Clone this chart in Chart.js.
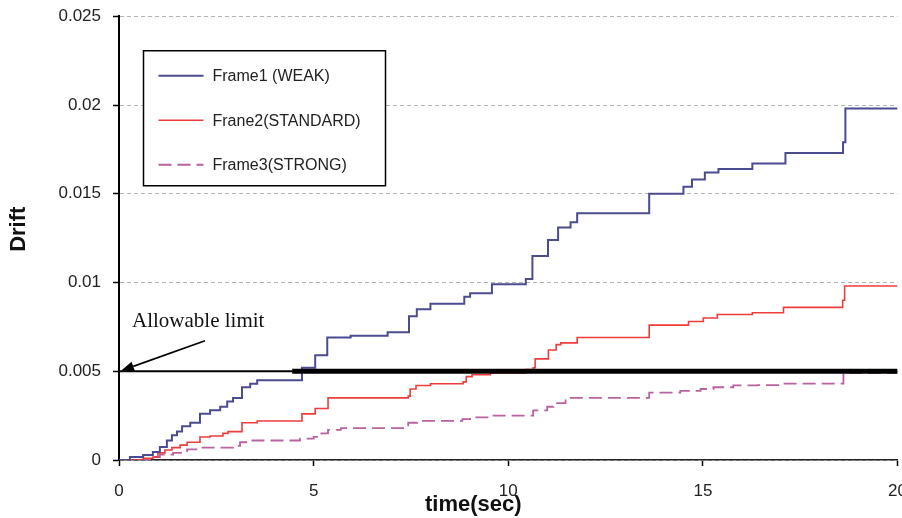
<!DOCTYPE html>
<html><head><meta charset="utf-8">
<script src="https://cdn.jsdelivr.net/npm/chart.js@4.4.0/dist/chart.umd.min.js"></script>
<style>html,body{margin:0;padding:0;background:#fff;overflow:hidden;width:902px;height:518px}canvas{display:block}</style>
</head><body>
<canvas id="c" width="922" height="518"></canvas>
<script>
// ---- data ----
const xTicks = [0, 5, 10, 15, 20];
const yTicks = [0, 0.005, 0.01, 0.015, 0.02, 0.025];
const seriesNames = ['Frame1 (WEAK)', 'Frane2(STANDARD)', 'Frame3(STRONG)'];

// each value holds from its time until the next time
const frame1Time  = [0, 0.28, 0.62, 0.87, 1.05, 1.23, 1.36, 1.49, 1.62, 1.83, 2.08, 2.34, 2.6, 2.78, 2.93, 3.16, 3.37, 3.55, 4.7, 5.04, 5.35, 5.95, 6.9, 7.45, 7.65, 8.0, 8.87, 9.02, 9.58, 10.45, 10.62, 11.02, 11.28, 11.6, 11.77, 13.62, 14.5, 14.72, 15.05, 15.4, 16.27, 17.12, 18.6, 18.66, 20];
const frame1Drift = [0, 0.00017, 0.00028, 0.00045, 0.00073, 0.0011, 0.0014, 0.0016, 0.0019, 0.0021, 0.0026, 0.0028, 0.003, 0.0033, 0.0035, 0.0041, 0.0043, 0.0045, 0.0052, 0.0059, 0.0069, 0.007, 0.0072, 0.0081, 0.0085, 0.0088, 0.0092, 0.0094, 0.0099, 0.0102, 0.0115, 0.0124, 0.0131, 0.0134, 0.0139, 0.015, 0.0154, 0.0158, 0.0162, 0.0164, 0.0167, 0.0173, 0.0179, 0.0198, 0.0198];

const frame2Time  = [0, 0.62, 0.87, 1.0, 1.18, 1.36, 1.57, 1.75, 2.08, 2.34, 2.67, 2.8, 3.16, 3.55, 4.7, 5.04, 5.37, 7.43, 7.48, 7.63, 8.0, 8.84, 8.92, 9.07, 9.54, 10.45, 10.64, 10.69, 11.03, 11.23, 11.35, 11.77, 13.62, 14.63, 15.01, 15.37, 16.27, 17.07, 18.59, 18.64, 20];
const frame2Drift = [0, 0.0001, 0.00017, 0.0004, 0.00056, 0.0007, 0.00084, 0.001, 0.0013, 0.00135, 0.0015, 0.0016, 0.0021, 0.0022, 0.0026, 0.0029, 0.0035, 0.0036, 0.004, 0.0042, 0.0043, 0.0044, 0.0047, 0.0048, 0.0049, 0.0051, 0.0052, 0.0057, 0.0062, 0.0065, 0.0066, 0.0069, 0.0076, 0.0078, 0.008, 0.0082, 0.0083, 0.0086, 0.009, 0.0098, 0.0098];

const frame3Time  = [0, 0.87, 1.05, 1.39, 1.75, 2.08, 2.93, 3.11, 3.3, 4.65, 5.0, 5.2, 5.37, 5.7, 7.43, 7.66, 8.82, 9.02, 9.54, 10.64, 11.0, 11.16, 11.47, 13.62, 14.42, 14.94, 15.27, 15.78, 16.4, 17.07, 18.61, 20];
const frame3Drift = [0, 0.00017, 0.0003, 0.0004, 0.0006, 0.0007, 0.0008, 0.001, 0.0011, 0.0012, 0.0013, 0.0015, 0.0017, 0.0018, 0.0021, 0.0022, 0.0023, 0.0024, 0.0025, 0.0028, 0.003, 0.0032, 0.0035, 0.0038, 0.0039, 0.004, 0.0041, 0.0042, 0.00422, 0.0043, 0.0049, 0.0049];

const allowableLimit = 0.005;
const boldLimitStart = 4.45;
const limitLabel = 'Allowable limit';
const xTitle = 'time(sec)';
const yTitle = 'Drift';

const toPts = (t, v) => t.map((x, i) => ({x: x, y: v[i]}));
const SANS = '"Liberation Sans", Arial, sans-serif';
const SERIF = '"Liberation Serif", "Times New Roman", serif';
const seriesColors = ['#4b4b8f', '#ee3c3c', '#b8629f'];

const overlay = {
  id: 'overlay',
  afterDraw(chart) {
    const ctx = chart.ctx, ca = chart.chartArea;
    const xs = chart.scales.x, ys = chart.scales.y;
    ctx.save();
    // legend box
    const bx = ca.left + 24.5, by = ca.top + 34.5, bw = 242, bh = 135;
    ctx.fillStyle = '#fff';
    ctx.fillRect(bx, by, bw, bh);
    ctx.strokeStyle = '#000'; ctx.lineWidth = 1.5; ctx.setLineDash([]);
    ctx.strokeRect(bx, by, bw, bh);
    const rows = [25, 69.5, 114];
    chart.data.datasets.slice(0, 3).forEach((ds, i) => {
      const y = by + rows[i];
      ctx.strokeStyle = ds.borderColor; ctx.lineWidth = ds.borderWidth;
      ctx.setLineDash(ds.borderDash || []);
      ctx.beginPath(); ctx.moveTo(bx + 15, y); ctx.lineTo(bx + 60, y); ctx.stroke();
      ctx.setLineDash([]);
      ctx.fillStyle = '#222'; ctx.font = '16px ' + SANS;
      ctx.textAlign = 'left'; ctx.textBaseline = 'middle';
      ctx.fillText(ds.label, bx + 69, y + 1);
    });
    // axis titles
    ctx.fillStyle = '#111'; ctx.font = 'bold 22px ' + SANS;
    ctx.textAlign = 'center'; ctx.textBaseline = 'middle';
    ctx.fillText(xTitle, xs.getPixelForValue(9.1), ca.bottom + 45);
    ctx.save();
    ctx.translate(19, ys.getPixelForValue(0.013));
    ctx.rotate(-Math.PI / 2);
    ctx.fillText(yTitle, 0, 0);
    ctx.restore();
    // allowable limit annotation
    const tipX = xs.getPixelForValue(0) + 2, tipY = ys.getPixelForValue(allowableLimit) - 0.5;
    const tailX = tipX + 84, tailY = tipY - 30;
    ctx.fillStyle = '#111'; ctx.font = '21px ' + SERIF;
    ctx.textAlign = 'left'; ctx.textBaseline = 'middle';
    ctx.fillText(limitLabel, ca.left + 13, tipY - 49);
    ctx.strokeStyle = '#000'; ctx.lineWidth = 1.6;
    const ang = Math.atan2(tipY - tailY, tipX - tailX);
    const hl = 13, hw = 5;
    const bxh = tipX - hl * Math.cos(ang), byh = tipY - hl * Math.sin(ang);
    ctx.beginPath(); ctx.moveTo(tailX, tailY); ctx.lineTo(bxh, byh); ctx.stroke();
    ctx.fillStyle = '#000';
    ctx.beginPath();
    ctx.moveTo(tipX, tipY);
    ctx.lineTo(bxh + hw * Math.sin(ang), byh - hw * Math.cos(ang));
    ctx.lineTo(bxh - hw * Math.sin(ang), byh + hw * Math.cos(ang));
    ctx.closePath(); ctx.fill();
    ctx.restore();
  }
};

new Chart(document.getElementById('c'), {
  type: 'line',
  data: {
    datasets: [
      {label: seriesNames[0], data: toPts(frame1Time, frame1Drift), borderColor: seriesColors[0], borderWidth: 2, stepped: 'before', order: 1},
      {label: seriesNames[1], data: toPts(frame2Time, frame2Drift), borderColor: seriesColors[1], borderWidth: 1.6, stepped: 'before', order: 1},
      {label: seriesNames[2], data: toPts(frame3Time, frame3Drift), borderColor: seriesColors[2], borderWidth: 1.8, borderDash: [13, 6], stepped: 'before', order: 1},
      {label: 'limit', data: [{x: 0, y: allowableLimit}, {x: 20, y: allowableLimit}], borderColor: '#000', borderWidth: 2.2, order: 0},
      {label: 'limit-bold', data: [{x: boldLimitStart, y: allowableLimit}, {x: 20, y: allowableLimit}], borderColor: '#000', borderWidth: 5, order: 0}
    ]
  },
  options: {
    responsive: false,
    animation: false,
    events: [],
    layout: {padding: {top: 0, left: 0, right: 0, bottom: 0}},
    elements: {point: {radius: 0}, line: {tension: 0, fill: false}},
    plugins: {legend: {display: false}, tooltip: {enabled: false}},
    scales: {
      x: {
        type: 'linear', min: 0, max: 20,
        afterBuildTicks: s => { s.ticks = xTicks.map(v => ({value: v})); },
        afterFit: s => { s.height = 58; },
        ticks: {color: '#222', font: {family: SANS, size: 17}, padding: 15, maxRotation: 0, callback: v => String(v)},
        grid: {drawOnChartArea: false, drawTicks: true, tickLength: 6, tickColor: '#000', tickWidth: 1.5},
        border: {display: true, color: '#222', width: 1.5}
      },
      y: {
        type: 'linear', min: 0, max: 0.025,
        afterBuildTicks: s => { s.ticks = yTicks.map(v => ({value: v})); },
        afterFit: s => { s.width = 119; },
        ticks: {color: '#222', font: {family: SANS, size: 17, lineHeight: 0.5}, padding: 12, callback: v => String(v)},
        grid: {color: '#b5b5b5', lineWidth: 1, drawTicks: true, tickLength: 6, tickColor: '#000', tickWidth: 1.5, tickBorderDash: []},
        border: {display: true, color: '#000', width: 2, dash: [4, 3]},
        title: {display: false, text: yTitle}
      }
    }
  },
  plugins: [overlay]
});
</script>
</body></html>
